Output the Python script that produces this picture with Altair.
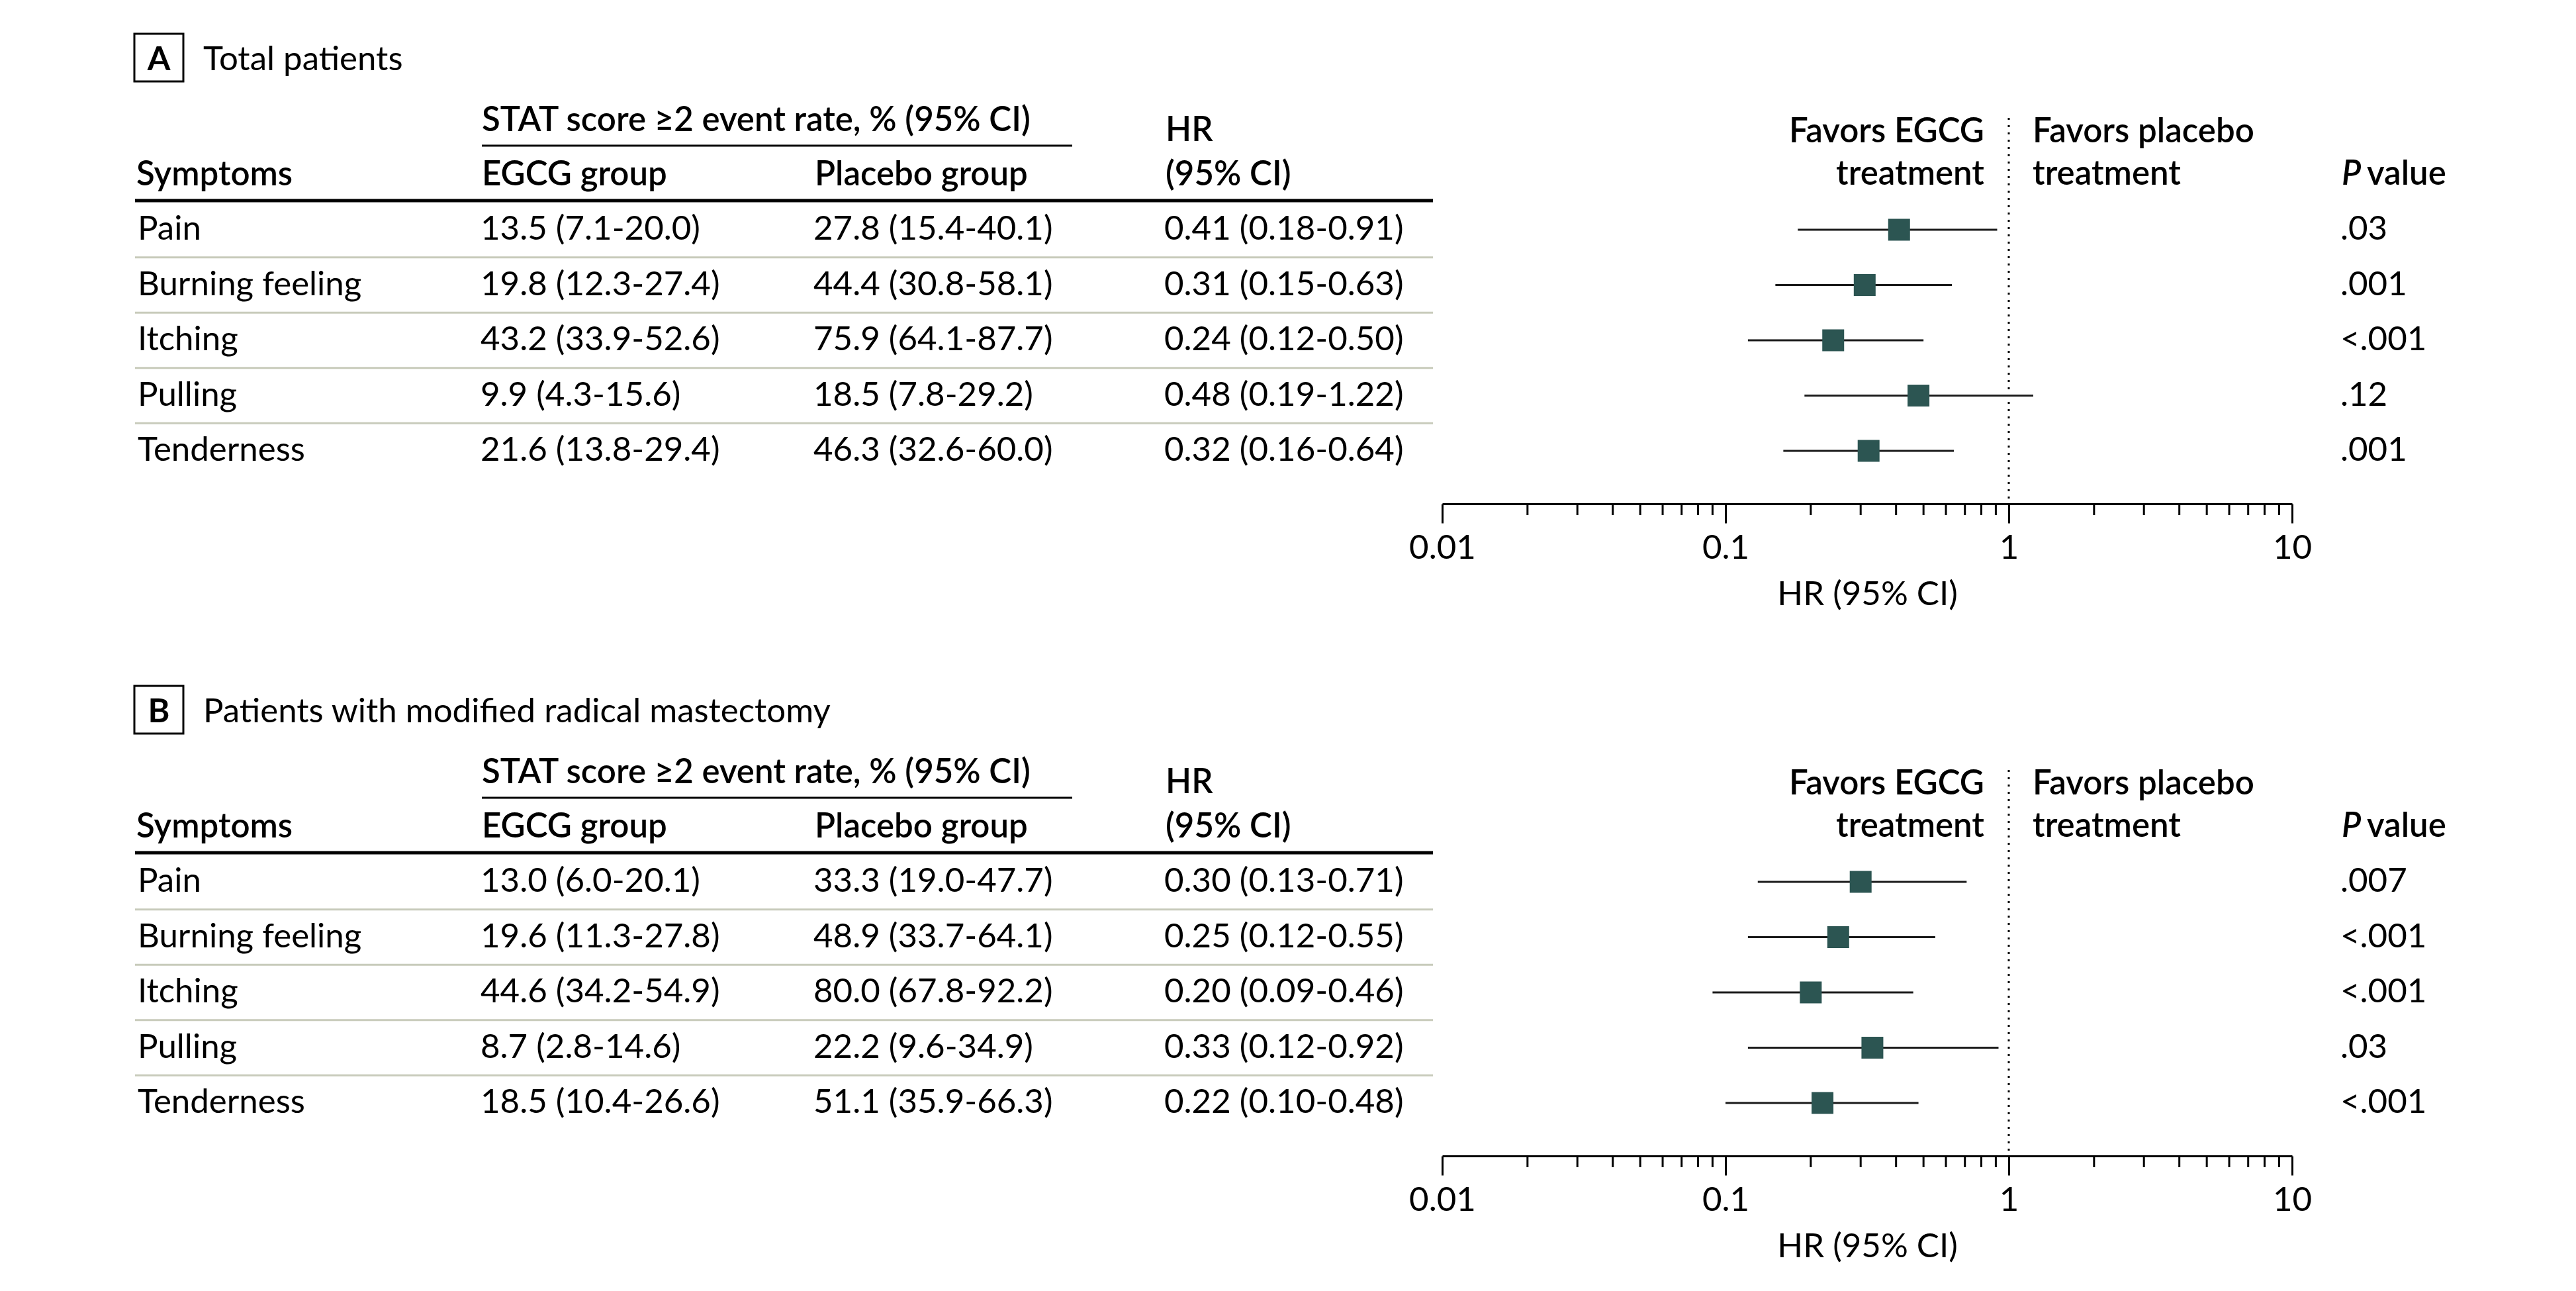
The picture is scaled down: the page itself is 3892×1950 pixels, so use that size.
import altair as alt
import pandas as pd

# ---------------- data ----------------
symptoms = ["Pain", "Burning feeling", "Itching", "Pulling", "Tenderness"]

a_egcg = ["13.5 (7.1-20.0)", "19.8 (12.3-27.4)", "43.2 (33.9-52.6)", "9.9 (4.3-15.6)", "21.6 (13.8-29.4)"]
a_placebo = ["27.8 (15.4-40.1)", "44.4 (30.8-58.1)", "75.9 (64.1-87.7)", "18.5 (7.8-29.2)", "46.3 (32.6-60.0)"]
a_hr = [0.41, 0.31, 0.24, 0.48, 0.32]
a_lo = [0.18, 0.15, 0.12, 0.19, 0.16]
a_hi = [0.91, 0.63, 0.50, 1.22, 0.64]
a_p = [".03", ".001", "<.001", ".12", ".001"]

b_egcg = ["13.0 (6.0-20.1)", "19.6 (11.3-27.8)", "44.6 (34.2-54.9)", "8.7 (2.8-14.6)", "18.5 (10.4-26.6)"]
b_placebo = ["33.3 (19.0-47.7)", "48.9 (33.7-64.1)", "80.0 (67.8-92.2)", "22.2 (9.6-34.9)", "51.1 (35.9-66.3)"]
b_hr = [0.30, 0.25, 0.20, 0.33, 0.22]
b_lo = [0.13, 0.12, 0.09, 0.12, 0.10]
b_hi = [0.71, 0.55, 0.46, 0.92, 0.48]
b_p = [".007", "<.001", "<.001", ".03", "<.001"]

major_ticks = [0.01, 0.1, 1, 10]
minor_ticks = [0.02, 0.03, 0.04, 0.05, 0.06, 0.07, 0.08, 0.09,
               0.2, 0.3, 0.4, 0.5, 0.6, 0.7, 0.8, 0.9,
               2, 3, 4, 5, 6, 7, 8, 9]

# ---------------- style ----------------
F = "Lato"
FS = 51
TXT = "#000000"
MARK = "#2C5552"
SEP = "#C8CBBB"
W = 3870
AXIS_Y = 753
TABLE_R = 2157


def panel(letter, title, egcg, placebo, hr, lo, hi, pv, height):
    df = pd.DataFrame({
        "row": list(range(len(symptoms))),
        "symptom": symptoms,
        "egcg": egcg,
        "placebo": placebo,
        "hr": hr,
        "lo": lo,
        "hi": hi,
        "hrtxt": [f"{h:.2f} ({l:.2f}-{u:.2f})" for h, l, u in zip(hr, lo, hi)],
        "p": pv,
    })
    base = alt.Chart(df)
    one = alt.Chart(pd.DataFrame({"k": [0]}))

    yscale = alt.Scale(domain=[0, 4], range=[339, 673], nice=False, zero=False)
    yenc = alt.Y("row:Q", scale=yscale, axis=None)
    xscale = alt.Scale(type="log", domain=[0.01, 10], range=[2171, 3455], nice=False)
    xaxis = alt.Axis(
        values=major_ticks,
        labelExpr="format(datum.value, '~g')",
        tickSize=29, tickWidth=3, tickColor="black",
        domainWidth=3, domainColor="black",
        labelFont=F, labelFontSize=FS, labelColor=TXT, labelBaseline="alphabetic",
        labelPadding=53, labelFlush=False, labelOverlap=False,
        title="HR (95% CI)", titleFont=F, titleFontSize=FS, titleFontWeight="normal",
        titleColor=TXT, titleBaseline="alphabetic", titleY=152,
        grid=False, offset=-(height - AXIS_Y),
    )

    def htext(txt, x, y, align="left", weight=600, size=FS, style="normal"):
        return one.mark_text(text=txt, align=align, baseline="alphabetic", font=F,
                             fontSize=size, fontWeight=weight, fontStyle=style,
                             color=TXT).encode(x=alt.value(x), y=alt.value(y))

    def coltext(field, x):
        return base.mark_text(align="left", baseline="middle", font=F, fontSize=FS,
                              color=TXT).encode(x=alt.value(x), y=yenc, text=f"{field}:N")

    layers = []
    # panel title with boxed letter
    layers.append(one.mark_rect(fill="white", stroke="black", strokeWidth=3).encode(
        x=alt.value(195), x2=alt.value(269), y=alt.value(43), y2=alt.value(115)))
    layers.append(htext(letter, 232, 98, align="center", weight="bold", size=50))
    layers.append(htext(title, 299, 98, weight="normal", size=51))

    # table headers
    layers.append(htext("STAT score \u22652 event rate, % (95% CI)", 720, 190))
    layers.append(one.mark_rule(color="black", strokeWidth=3).encode(
        x=alt.value(720), x2=alt.value(1612), y=alt.value(212)))
    layers.append(htext("HR", 1753, 205))
    layers.append(htext("(95% CI)", 1753, 272))
    layers.append(htext("Symptoms", 198, 272))
    layers.append(htext("EGCG group", 720, 272))
    layers.append(htext("Placebo group", 1223, 272))
    layers.append(one.mark_rule(color="black", strokeWidth=5).encode(
        x=alt.value(196), x2=alt.value(TABLE_R), y=alt.value(295)))

    # forest headers
    layers.append(htext("Favors EGCG", 2990, 207, align="right"))
    layers.append(htext("treatment", 2990, 271, align="right"))
    layers.append(htext("Favors placebo", 3063, 207))
    layers.append(htext("treatment", 3063, 271))
    layers.append(htext("P", 3530, 271, style="italic"))
    layers.append(htext("value", 3568, 271))

    # row separators
    layers.append(base.transform_filter("datum.row < 4").transform_calculate(
        sep="datum.row + 0.5").mark_rule(color=SEP, strokeWidth=3).encode(
        x=alt.value(196), x2=alt.value(TABLE_R),
        y=alt.Y("sep:Q", scale=yscale, axis=None)))

    # table columns
    layers.append(coltext("symptom", 200))
    layers.append(coltext("egcg", 718))
    layers.append(coltext("placebo", 1221))
    layers.append(coltext("hrtxt", 1751))
    layers.append(coltext("p", 3528))

    # reference line at HR = 1
    layers.append(one.mark_rule(color="black", strokeWidth=3, strokeDash=[3, 8]).encode(
        x=alt.X(datum=1, type="quantitative", scale=xscale, axis=xaxis),
        y=alt.value(170), y2=alt.value(AXIS_Y)))

    # minor ticks
    minor_df = pd.DataFrame({"v": minor_ticks})
    layers.append(alt.Chart(minor_df).mark_rule(color="black", strokeWidth=3).encode(
        x=alt.X("v:Q", scale=xscale, axis=xaxis),
        y=alt.value(AXIS_Y), y2=alt.value(AXIS_Y + 17)))

    # CI lines and point estimates
    layers.append(base.mark_rule(color="#1A1A1A", strokeWidth=3).encode(
        x=alt.X("lo:Q", scale=xscale, axis=xaxis), x2="hi:Q", y=yenc))
    layers.append(base.mark_square(size=1089, color=MARK, opacity=1).encode(
        x=alt.X("hr:Q", scale=xscale, axis=xaxis), y=yenc))

    return alt.layer(*layers).properties(width=W, height=height)


pA = panel("A", "Total patients", a_egcg, a_placebo, a_hr, a_lo, a_hi, a_p, 985)
pB = panel("B", "Patients with modified radical mastectomy", b_egcg, b_placebo, b_hr, b_lo, b_hi, b_p, 940)

chart = alt.vconcat(pA, pB, spacing=0).properties(padding=0, background="white").configure_view(
    stroke=None).configure_concat(spacing=0)

chart.save("out.html", embed_options={"renderer": "svg", "actions": False})
